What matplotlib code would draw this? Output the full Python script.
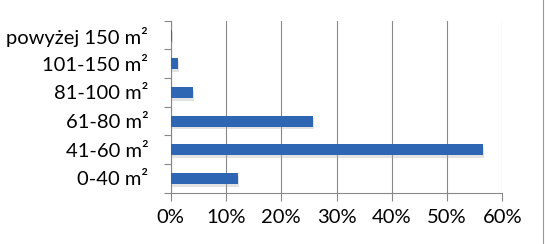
import matplotlib
matplotlib.use('Agg')
import matplotlib.pyplot as plt
import matplotlib.patheffects as pe
from matplotlib.ticker import FuncFormatter

# dane
kategorie = ['0-40 m²', '41-60 m²', '61-80 m²', '81-100 m²', '101-150 m²', 'powyżej 150 m²']
udzialy = [0.121, 0.564, 0.257, 0.040, 0.013, 0.002]
ticki_x = [0, 0.1, 0.2, 0.3, 0.4, 0.5, 0.6]

plt.rcParams['font.family'] = ['Lato', 'DejaVu Sans']

fig = plt.figure(figsize=(5.45, 2.44), dpi=100)
ax = fig.add_axes([0.313, 0.21, 0.609, 0.705])

bary = ax.barh(range(len(kategorie)), udzialy, height=0.38, color='#2F66B3', zorder=3)
for b in bary:
    b.set_path_effects([pe.SimplePatchShadow(offset=(1, -2), shadow_rgbFace='#b0b0b0', alpha=0.35), pe.Normal()])

ax.set_xlim(0, 0.6)
ax.set_ylim(-0.5, len(kategorie) - 0.5)
ax.set_xticks(ticki_x)
ax.xaxis.set_major_formatter(FuncFormatter(lambda v, p: f'{v * 100:.0f}%'))
ax.set_yticks(range(len(kategorie)))
ax.set_yticklabels(kategorie)
ax.set_yticks([i - 0.5 for i in range(len(kategorie) + 1)], minor=True)
ax.tick_params(axis='y', which='major', length=0, pad=16, labelsize=14.5)
ax.tick_params(axis='y', which='minor', length=5, color='#888888', width=0.8)
ax.tick_params(axis='x', length=6, color='#888888', width=0.8, labelsize=14.5, pad=6)

ax.grid(axis='x', color='#888888', linewidth=0.8, zorder=0)
for s in ['top', 'right']:
    ax.spines[s].set_visible(False)
ax.spines['left'].set_color('#888888')
ax.spines['bottom'].set_color('#888888')
ax.spines['left'].set_linewidth(0.8)
ax.spines['bottom'].set_linewidth(0.8)

# ramka po prawej
fig.add_artist(plt.Line2D([0.996, 0.996], [0, 1], color='#999999', linewidth=0.8))

fig.savefig('out.png', dpi=100)
